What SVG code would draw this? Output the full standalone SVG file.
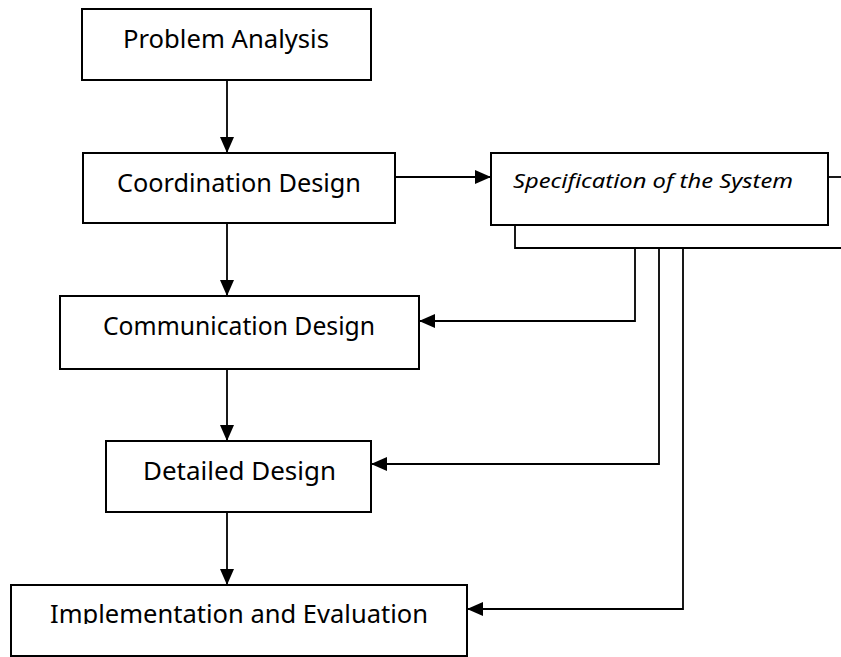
<svg xmlns="http://www.w3.org/2000/svg" width="841" height="657" viewBox="0 0 841 657">
  <style>
    .box { fill: #ffffff; stroke: #000000; stroke-width: 2; }
    .lbl { font-family: "Noto Sans", "DejaVu Sans", sans-serif; font-size: 26px; fill: #000000; text-anchor: middle; }
    .spec { font-family: "Noto Sans", "DejaVu Sans", sans-serif; font-size: 19px; font-style: italic; fill: #000000; }
    .wire { fill: none; stroke: #000000; stroke-width: 1.8; }
  </style>
  <defs>
    <marker id="arrow" markerUnits="userSpaceOnUse" markerWidth="16" markerHeight="14" refX="16" refY="7" orient="auto">
      <path d="M0,0 L16,7 L0,14 z" fill="#000000"/>
    </marker>
    <clipPath id="implClip">
      <rect x="12" y="586" width="454" height="38"/>
    </clipPath>
  </defs>
  <rect width="841" height="657" fill="#ffffff"/>

  <g id="connectors">
    <line class="wire" x1="227" y1="80" x2="227" y2="153" marker-end="url(#arrow)"/>
    <line class="wire" x1="395" y1="177" x2="491" y2="177" marker-end="url(#arrow)"/>
    <line class="wire" x1="828" y1="177" x2="841" y2="177"/>
    <polyline class="wire" points="515,225 515,248 841,248"/>
    <line class="wire" x1="227" y1="223" x2="227" y2="296" marker-end="url(#arrow)"/>
    <polyline class="wire" points="635,248 635,321 419,321" marker-end="url(#arrow)"/>
    <line class="wire" x1="227" y1="369" x2="227" y2="441" marker-end="url(#arrow)"/>
    <polyline class="wire" points="659,248 659,464 371,464" marker-end="url(#arrow)"/>
    <line class="wire" x1="227" y1="512" x2="227" y2="585" marker-end="url(#arrow)"/>
    <polyline class="wire" points="683,248 683,609 467,609" marker-end="url(#arrow)"/>
  </g>

  <g id="problem-analysis">
    <rect class="box" x="82" y="9" width="289" height="71"/>
    <text class="lbl" x="226" y="48" textLength="206" lengthAdjust="spacingAndGlyphs">Problem Analysis</text>
  </g>

  <g id="coordination-design">
    <rect class="box" x="83" y="153" width="312" height="70"/>
    <text class="lbl" x="239" y="192" textLength="244" lengthAdjust="spacingAndGlyphs">Coordination Design</text>
  </g>

  <g id="specification">
    <rect class="box" x="491" y="153" width="337" height="72"/>
    <text class="spec" x="513" y="188" textLength="280" lengthAdjust="spacingAndGlyphs">Specification of the System</text>
  </g>

  <g id="communication-design">
    <rect class="box" x="60" y="296" width="359" height="73"/>
    <text class="lbl" x="239" y="335" textLength="272" lengthAdjust="spacingAndGlyphs">Communication Design</text>
  </g>

  <g id="detailed-design">
    <rect class="box" x="106" y="441" width="265" height="71"/>
    <text class="lbl" x="239.5" y="480" textLength="193" lengthAdjust="spacingAndGlyphs">Detailed Design</text>
  </g>

  <g id="implementation-evaluation">
    <rect class="box" x="11" y="585" width="456" height="71"/>
    <text class="lbl" x="239" y="623" textLength="378" lengthAdjust="spacingAndGlyphs" clip-path="url(#implClip)">Implementation and Evaluation</text>
  </g>
</svg>
